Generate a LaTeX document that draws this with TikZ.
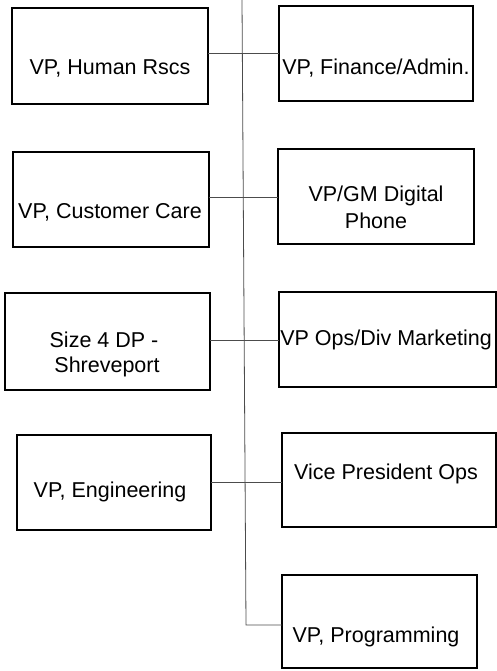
\documentclass[tikz,border=0pt]{standalone}
\usepackage{fontspec}
\setmainfont{Liberation Sans}
\begin{document}
\begin{tikzpicture}[x=1pt,y=-1pt,
  box/.style={draw=black, line width=1.3pt, inner sep=0pt, outer sep=0pt},
  lbl/.style={inner sep=0pt, anchor=base, font=\fontsize{21.5}{26}\selectfont},
  conn/.style={draw=black!70, line width=0.8pt}]
\useasboundingbox (0,0) rectangle (497,671);
% boxes
\node[box, minimum width=196pt, minimum height=96pt] (HR)   at (110,56) {};
\node[box, minimum width=194pt, minimum height=95pt] (Fin)  at (376,53.5) {};
\node[box, minimum width=196pt, minimum height=95pt] (CC)   at (111,199.5) {};
\node[box, minimum width=196pt, minimum height=95pt] (Dig)  at (376,196.5) {};
\node[box, minimum width=205pt, minimum height=97pt] (S4)   at (107.5,341.5) {};
\node[box, minimum width=217pt, minimum height=95pt] (Ops)  at (387.5,339.5) {};
\node[box, minimum width=194pt, minimum height=95pt] (Eng)  at (114,482.5) {};
\node[box, minimum width=214pt, minimum height=94pt] (VOps) at (389,480) {};
\node[box, minimum width=195pt, minimum height=93pt] (Prog) at (379.5,621.5) {};
% labels
\node[lbl] (tHR)   at (110,75)  {VP, Human Rscs};
\node[lbl] (tFin)  at (376,75)  {VP, Finance/Admin.};
\node[lbl] (tCC)   at (110,218) {VP, Customer Care};
\node[lbl] (tDig1) at (376,201) {VP/GM Digital};
\node[lbl] (tDig2) at (376,228) {Phone};
\node[lbl] (tS41)  at (104,347) {Size 4 DP -};
\node[lbl] (tS42)  at (107,372) {Shreveport};
\node[lbl] (tOps)  at (386,345) {VP Ops/Div Marketing};
\node[lbl] (tEng)  at (110,497) {VP, Engineering};
\node[lbl] (tVOps) at (386,479) {Vice President Ops};
\node[lbl] (tProg) at (376,642) {VP, Programming};
% connectors
\coordinate (top) at (242,0);
\coordinate (bend) at (246,625);
\draw[conn] (top) -- (bend) -- (Prog.west |- bend);
\draw[conn] (HR.east |- 0,53)  -- (Fin.west |- 0,53);
\draw[conn] (CC.east |- 0,197) -- (Dig.west |- 0,197);
\draw[conn] (S4.east |- 0,340) -- (Ops.west |- 0,340);
\draw[conn] (Eng.east |- 0,482) -- (VOps.west |- 0,482);
\end{tikzpicture}
\end{document}
